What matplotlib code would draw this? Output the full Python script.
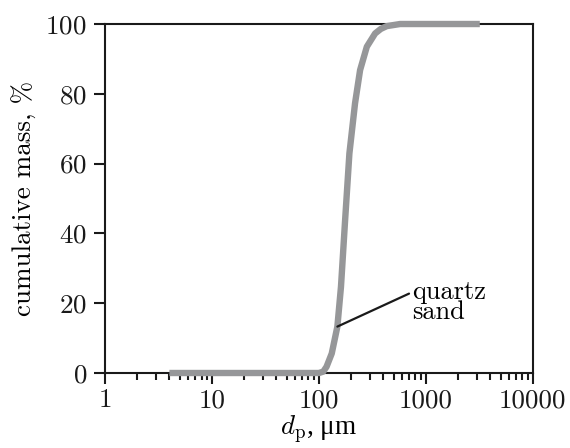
import numpy as np
import matplotlib
matplotlib.use("Agg")
import matplotlib.pyplot as plt
from matplotlib.ticker import FixedLocator, FixedFormatter, LogLocator, NullFormatter

plt.rcParams['font.family'] = ['cmr10', 'DejaVu Serif']
plt.rcParams['mathtext.fontset'] = 'cm'
plt.rcParams['axes.formatter.use_mathtext'] = True

# particle size distribution, quartz sand (cumulative mass)
d_p = [4, 100, 110, 118, 132, 149, 161, 176, 193, 218, 243, 281, 336, 380, 432, 575, 3200]
cum_mass = [0, 0, 0.4, 1.8, 5.6, 13.3, 24.7, 43.8, 62.9, 77.3, 86.8, 93.5, 97.3, 98.6, 99.4, 100, 100]

x_ticks = [1, 10, 100, 1000, 10000]
x_ticklabels = ['1', '10', '100', '1000', '10000']
y_ticks = [0, 20, 40, 60, 80, 100]

label_idx = 5  # point on the curve where the label line touches

fig = plt.figure(figsize=(5.7, 4.48), dpi=100)
ax = fig.add_axes([0.1842, 0.1674, 0.7504, 0.779])

ax.plot(d_p, cum_mass, color='#969799', lw=4.6, solid_capstyle='butt',
        solid_joinstyle='round', clip_on=False, zorder=3)

ax.annotate('quartz\nsand', xy=(d_p[label_idx], cum_mass[label_idx]),
            xytext=(740, 20.3), ha='left', va='center', fontsize=19,
            linespacing=0.85,
            arrowprops=dict(arrowstyle='-', color='#1a1a1a', lw=1.6,
                            shrinkA=0, shrinkB=0, relpos=(0, 0.72)))

ax.set_xscale('log')
ax.set_xlim(1, 10000)
ax.set_ylim(0, 100)
ax.xaxis.set_major_locator(FixedLocator(x_ticks))
ax.xaxis.set_major_formatter(FixedFormatter(x_ticklabels))
ax.xaxis.set_minor_locator(LogLocator(base=10, subs=np.arange(2, 10)))
ax.xaxis.set_minor_formatter(NullFormatter())
ax.set_yticks(y_ticks)

for s in ax.spines.values():
    s.set_linewidth(1.5)
    s.set_color('#1a1a1a')

ax.tick_params(axis='both', which='major', direction='out', length=8, width=1.5,
               labelsize=19.5, colors='#1a1a1a', top=False, right=False)
ax.tick_params(axis='x', which='major', pad=3)
ax.tick_params(axis='y', which='major', pad=5)
ax.tick_params(axis='x', which='minor', direction='out', length=5, width=1.5,
               colors='#1a1a1a', top=False)

# cmr10 has no micro sign, so this label uses a serif font that does
ax.set_xlabel('$d_\\mathrm{p}$, \u03bcm', fontsize=19.5, labelpad=1.5,
              fontfamily=['Liberation Serif', 'DejaVu Serif'])
ax.set_ylabel('cumulative mass, %', fontsize=19.5, labelpad=6)

fig.savefig('out.png', dpi=100)
